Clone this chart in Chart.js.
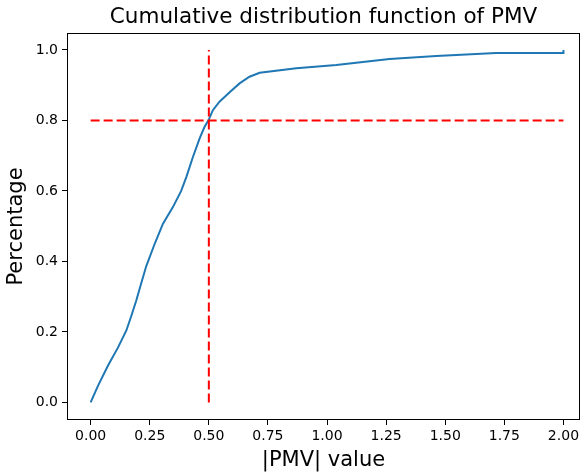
<!DOCTYPE html>
<html>
<head>
<meta charset="utf-8">
<script src="https://cdn.jsdelivr.net/npm/chart.js@4"></script>
<style>
  body { margin: 0; background: #fff; }
  canvas { display: block; }
</style>
</head>
<body>
<canvas id="cdf-chart" width="583" height="475"></canvas>
<script>
// |PMV| value and cumulative share
const pmvValues = [0, 0.031, 0.073, 0.116, 0.151, 0.172, 0.193, 0.214, 0.235, 0.271, 0.306,
  0.348, 0.383, 0.405, 0.433, 0.461, 0.482, 0.499, 0.517, 0.545, 0.588, 0.630, 0.672, 0.715,
  0.870, 1.039, 1.264, 1.462, 1.715, 2.0, 2.0];
const cdfValues = [0, 0.047, 0.104, 0.156, 0.204, 0.245, 0.289, 0.338, 0.386, 0.450, 0.507,
  0.554, 0.600, 0.640, 0.697, 0.749, 0.782, 0.801, 0.829, 0.853, 0.880, 0.905, 0.924, 0.935,
  0.948, 0.957, 0.974, 0.983, 0.991, 0.991, 1.0];

// red reference lines
const vLineX = [0.5, 0.5];
const vLineY = [0, 1];
const hLineX = [0, 2];
const hLineY = [0.8, 0.8];

const xTicks = [0, 0.25, 0.5, 0.75, 1.0, 1.25, 1.5, 1.75, 2.0];
const yTicks = [0, 0.2, 0.4, 0.6, 0.8, 1.0];

const TITLE = 'Cumulative distribution function of PMV';
const FONT = "'DejaVu Sans', sans-serif";

function toPoints(xs, ys) {
  return xs.map((x, i) => ({ x: x, y: ys[i] }));
}

// frame around the plot (matplotlib spines) + title centred over the axes
const framePlugin = {
  id: 'frame',
  afterDraw(chart) {
    const { ctx, chartArea: a } = chart;
    ctx.save();
    ctx.strokeStyle = '#000';
    ctx.lineWidth = 1;
    ctx.strokeRect(Math.round(a.left) + 0.5, Math.round(a.top) + 0.5,
      Math.round(a.right - a.left) - 1, Math.round(a.bottom - a.top) - 1);

    ctx.fillStyle = '#000';
    ctx.font = '21.5px ' + FONT;
    ctx.textAlign = 'center';
    ctx.textBaseline = 'middle';
    ctx.fillText(TITLE, (a.left + a.right) / 2, 17);
    ctx.restore();
  }
};

const ctx = document.getElementById('cdf-chart').getContext('2d');
new Chart(ctx, {
  type: 'scatter',
  data: {
    datasets: [
      {
        data: toPoints(vLineX, vLineY),
        showLine: true,
        borderColor: '#ff0000',
        borderWidth: 2,
        borderDash: [9, 4],
        pointRadius: 0,
        order: 0
      },
      {
        data: toPoints(hLineX, hLineY),
        showLine: true,
        borderColor: '#ff0000',
        borderWidth: 2,
        borderDash: [9, 4],
        pointRadius: 0,
        order: 0
      },
      {
        data: toPoints(pmvValues, cdfValues),
        showLine: true,
        borderColor: '#1f77b4',
        borderWidth: 2,
        pointRadius: 0,
        tension: 0,
        order: 1
      }
    ]
  },
  options: {
    responsive: false,
    animation: false,
    layout: { padding: { left: 0, right: 3, top: 33, bottom: 0 } },
    plugins: {
      legend: { display: false },
      tooltip: { enabled: false },
      title: { display: false }
    },
    scales: {
      x: {
        type: 'linear',
        min: -0.1,
        max: 2.07,
        afterBuildTicks: s => { s.ticks = xTicks.map(v => ({ value: v })); },
        afterFit: s => { s.height = 55; },
        ticks: {
          color: '#000',
          font: { family: FONT, size: 14 },
          padding: 3,
          maxRotation: 0,
          autoSkip: false,
          callback: v => v.toFixed(2)
        },
        grid: { display: true, drawOnChartArea: false, drawTicks: true, tickLength: 5, color: '#000' },
        border: { display: false },
        title: {
          display: true,
          text: '|PMV| value',
          color: '#000',
          font: { family: FONT, size: 21 },
          padding: { top: 0, bottom: 2 }
        }
      },
      y: {
        type: 'linear',
        min: -0.05,
        max: 1.048,
        afterBuildTicks: s => { s.ticks = yTicks.map(v => ({ value: v })); },
        afterFit: s => { s.width = 67; },
        ticks: {
          color: '#000',
          font: { family: FONT, size: 14 },
          padding: 4,
          autoSkip: false,
          callback: v => v.toFixed(1)
        },
        grid: { display: true, drawOnChartArea: false, drawTicks: true, tickLength: 5, color: '#000' },
        border: { display: false },
        title: {
          display: true,
          text: 'Percentage',
          color: '#000',
          font: { family: FONT, size: 21 },
          padding: { top: 4, bottom: 0 }
        }
      }
    }
  },
  plugins: [framePlugin]
});
</script>
</body>
</html>
